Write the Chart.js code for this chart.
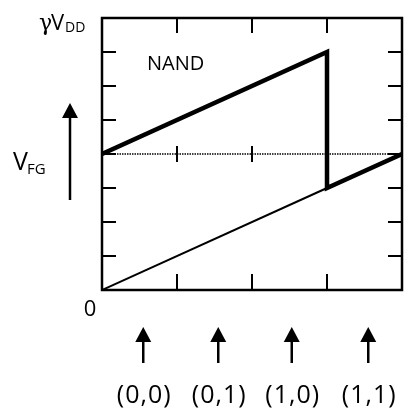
<!DOCTYPE html>
<html>
<head>
<meta charset="utf-8">
<script src="https://cdn.jsdelivr.net/npm/chart.js@4.4.0/dist/chart.umd.min.js"></script>
<style>
  html, body { margin: 0; padding: 0; background: #fff; }
  #wrap { width: 413px; height: 414px; }
</style>
</head>
<body>
<div id="wrap"><canvas id="nandChart"></canvas></div>
<script>
// data, in plot units (x: input step 0..4, y: V_FG in eighths of gamma*VDD)
const thinLine = [{x: 0, y: 0}, {x: 3, y: 3}];
const thickLine = [{x: 0, y: 4}, {x: 3, y: 7}, {x: 3, y: 3}, {x: 4, y: 4}];
const midLine = [{x: 0, y: 4}, {x: 4, y: 4}];
const xTicks = [1, 2, 3];
const yTicks = [1, 2, 3, 4, 5, 6, 7];
const inputLabels = ['(0,0)', '(0,1)', '(1,0)', '(1,1)'];
const inputPos = [0.55, 1.55, 2.53, 3.55];

const FONT = '"Open Sans", sans-serif';

// frame, inward ticks and all annotation text
const decorPlugin = {
    id: 'decor',
    afterDatasetsDraw(chart) {
        const ctx = chart.ctx;
        const a = chart.chartArea;
        const xs = chart.scales.x;
        const ys = chart.scales.y;
        ctx.save();
        ctx.strokeStyle = '#000';
        ctx.fillStyle = '#000';
        ctx.lineWidth = 2;
        ctx.lineCap = 'butt';
        ctx.beginPath();
        xTicks.forEach(v => {
            const px = xs.getPixelForValue(v);
            ctx.moveTo(px, a.bottom); ctx.lineTo(px, a.bottom - 16);
            ctx.moveTo(px, a.top); ctx.lineTo(px, a.top + 15);
            const my = ys.getPixelForValue(4);
            ctx.moveTo(px, my - 8); ctx.lineTo(px, my + 8);
        });
        yTicks.forEach(v => {
            const py = ys.getPixelForValue(v);
            ctx.moveTo(a.left, py); ctx.lineTo(a.left + 14, py);
            ctx.moveTo(a.right, py); ctx.lineTo(a.right - 14, py);
        });
        ctx.stroke();

        ctx.lineWidth = 2.5;
        ctx.strokeRect(a.left, a.top, a.right - a.left, a.bottom - a.top);

        function upArrow(x, yTop, yBot) {
            ctx.lineWidth = 2.5;
            ctx.beginPath();
            ctx.moveTo(x, yTop + 10); ctx.lineTo(x, yBot);
            ctx.stroke();
            ctx.beginPath();
            ctx.moveTo(x, yTop); ctx.lineTo(x - 8, yTop + 15); ctx.lineTo(x + 8, yTop + 15);
            ctx.closePath();
            ctx.fill();
        }
        upArrow(70, 103, 200);

        ctx.textBaseline = 'alphabetic';
        ctx.textAlign = 'center';
        ctx.font = '25px ' + FONT;
        ctx.letterSpacing = '1px';
        inputLabels.forEach((lab, i) => {
            const px = xs.getPixelForValue(inputPos[i]);
            upArrow(px, 327, 363);
            ctx.fillText(lab, px + 1, 403);
        });
        ctx.letterSpacing = '0px';

        ctx.font = '22px ' + FONT;
        ctx.fillText('0', 90, 316);

        ctx.textAlign = 'left';
        ctx.font = '20px ' + FONT;
        ctx.fillText('NAND', 147, 70);

        // gamma V_DD
        ctx.font = '22px "DejaVu Serif", serif';
        ctx.fillText('\u03B3', 39, 30);
        ctx.font = '22px ' + FONT;
        ctx.fillText('V', 51, 30);
        ctx.font = '14px ' + FONT;
        ctx.fillText('DD', 65, 32);

        // V_FG
        ctx.font = '25px ' + FONT;
        ctx.fillText('V', 13, 170);
        ctx.font = '15px ' + FONT;
        ctx.fillText('FG', 27, 174);
        ctx.restore();
    }
};

new Chart(document.getElementById('nandChart'), {
    type: 'scatter',
    data: {
        datasets: [
            {
                data: midLine,
                showLine: true,
                borderColor: '#000',
                borderWidth: 1.5,
                borderDash: [1.5, 1],
                pointRadius: 0
            },
            {
                data: thinLine,
                showLine: true,
                borderColor: '#000',
                borderWidth: 2,
                pointRadius: 0
            },
            {
                data: thickLine,
                showLine: true,
                borderColor: '#000',
                borderWidth: 4.5,
                borderJoinStyle: 'miter',
                pointRadius: 0
            }
        ]
    },
    options: {
        responsive: true,
        maintainAspectRatio: false,
        animation: false,
        layout: {
            padding: {left: 102, top: 18, right: 11, bottom: 124}
        },
        plugins: {
            legend: {display: false},
            tooltip: {enabled: false}
        },
        scales: {
            x: {type: 'linear', min: 0, max: 4, display: false},
            y: {type: 'linear', min: 0, max: 8, display: false}
        }
    },
    plugins: [decorPlugin]
});
</script>
</body>
</html>
